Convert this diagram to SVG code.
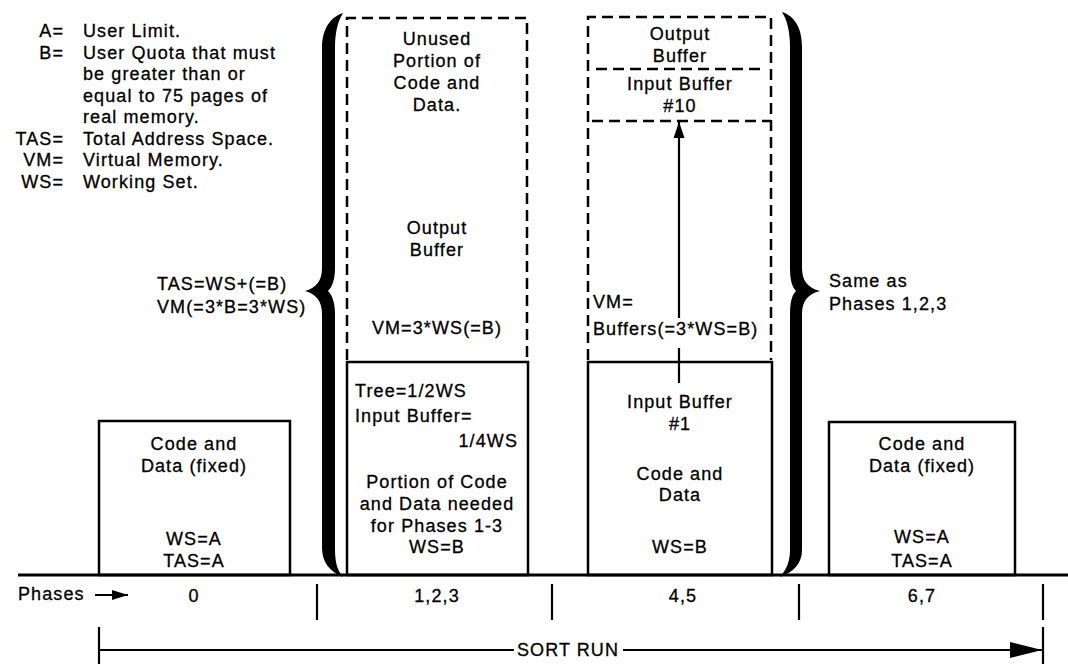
<svg xmlns="http://www.w3.org/2000/svg" width="1068" height="664" viewBox="0 0 1068 664">
<defs>
<style>
text{font-family:"Liberation Sans",Arial,sans-serif;font-size:18px;letter-spacing:1.1px;fill:#000;stroke:#000;stroke-width:0.3}
.c{text-anchor:middle}
.e{text-anchor:end}
.box{fill:none;stroke:#000;stroke-width:2.5}
.dash{fill:none;stroke:#000;stroke-width:2.5;stroke-dasharray:11 6}
.ln{fill:none;stroke:#000;stroke-width:2.2}
.brace{fill:#000}
</style>
<marker id="ahBig" markerUnits="userSpaceOnUse" markerWidth="34" markerHeight="20" refX="32" refY="10" orient="auto"><path d="M0,2 L32,10 L0,18 Z" fill="#000"/></marker>
<marker id="ahSmall" markerUnits="userSpaceOnUse" markerWidth="18" markerHeight="12" refX="16" refY="6" orient="auto"><path d="M0,1 L16,6 L0,11 Z" fill="#000"/></marker>
<marker id="ahUp" markerUnits="userSpaceOnUse" markerWidth="18" markerHeight="14" refX="16" refY="7" orient="auto"><path d="M0,1.5 L16,7 L0,12.5 Z" fill="#000"/></marker>
</defs>
<rect width="1068" height="664" fill="#fff"/>

<g id="legend">
<text x="64" y="37" class="e">A=</text><text x="83" y="37">User Limit.</text>
<text x="64" y="58.5" class="e">B=</text><text x="83" y="58.5">User Quota that must</text>
<text x="83" y="80">be greater than or</text>
<text x="83" y="101.5">equal to 75 pages of</text>
<text x="83" y="123">real memory.</text>
<text x="64" y="144.5" class="e">TAS=</text><text x="83" y="144.5">Total Address Space.</text>
<text x="64" y="166" class="e">VM=</text><text x="83" y="166">Virtual Memory.</text>
<text x="64" y="188" class="e">WS=</text><text x="83" y="188">Working Set.</text>
</g>

<g id="baseline">
<line x1="18" y1="575" x2="1068" y2="575" stroke="#000" stroke-width="3"/>
</g>

<g id="phase0">
<rect class="box" x="99" y="421" width="191" height="154"/>
<text x="194" y="450" class="c">Code and</text>
<text x="194" y="472" class="c">Data (fixed)</text>
<text x="194" y="545" class="c">WS=A</text>
<text x="194" y="567" class="c">TAS=A</text>
</g>

<g id="brace-left">
<path class="brace" d="M343,13 C331,17 322,28 322,48 L322,268 C322,281 316,288 305,291 C316,294 322,301 322,314 L322,548 C322,562 330,572 343,577 C337,570 335,562 335,548 L335,314 C335,302 332,295 328,291 C332,287 335,280 335,268 L335,48 C335,32 338,21 343,13 Z"/>
<text x="157" y="290">TAS=WS+(=B)</text>
<text x="157" y="313">VM(=3*B=3*WS)</text>
</g>

<g id="phase123-vm">
<path class="dash" d="M347,360 L347,18 L527,18 L527,360"/>
<text x="437" y="45" class="c">Unused</text>
<text x="437" y="67" class="c">Portion of</text>
<text x="437" y="89" class="c">Code and</text>
<text x="437" y="111" class="c">Data.</text>
<text x="437" y="234" class="c">Output</text>
<text x="437" y="256" class="c">Buffer</text>
<text x="437" y="334" class="c">VM=3*WS(=B)</text>
</g>

<g id="phase123-ws">
<rect class="box" x="347" y="362" width="181" height="213"/>
<text x="355" y="397">Tree=1/2WS</text>
<text x="355" y="422">Input Buffer=</text>
<text x="518" y="447" class="e">1/4WS</text>
<text x="437" y="488" class="c">Portion of Code</text>
<text x="437" y="510" class="c">and Data needed</text>
<text x="437" y="532" class="c">for Phases 1-3</text>
<text x="437" y="553" class="c">WS=B</text>
</g>

<g id="phase45-vm">
<path class="dash" d="M588,360 L588,17 L771,17 L771,360"/>
<line class="dash" x1="596" y1="69" x2="765" y2="69"/>
<line class="dash" x1="592" y1="121" x2="771" y2="121"/>
<text x="680" y="40" class="c">Output</text>
<text x="680" y="62" class="c">Buffer</text>
<text x="680" y="90" class="c">Input Buffer</text>
<text x="680" y="112" class="c">#10</text>
<text x="593" y="308">VM=</text>
<text x="593" y="335">Buffers(=3*WS=B)</text>
</g>

<g id="phase45-ws">
<rect class="box" x="588" y="362" width="184" height="213"/>
<text x="680" y="408" class="c">Input Buffer</text>
<text x="680" y="430" class="c">#1</text>
<text x="680" y="480" class="c">Code and</text>
<text x="680" y="501" class="c">Data</text>
<text x="680" y="553" class="c">WS=B</text>
</g>

<g id="brace-right">
<path class="brace" d="M782,12 C794,16 802,27 802,47 L802,268 C802,281 808,288 820,291 C808,294 802,301 802,314 L802,550 C802,563 794,572 780,577 C786,570 790,562 790,550 L790,314 C790,302 792,295 796,291 C792,287 790,280 790,268 L790,47 C790,31 787,20 782,12 Z"/>
<text x="829" y="287">Same as</text>
<text x="829" y="310">Phases 1,2,3</text>
</g>

<g id="phase67">
<rect class="box" x="829" y="422" width="186" height="153"/>
<text x="922" y="450" class="c">Code and</text>
<text x="922" y="472" class="c">Data (fixed)</text>
<text x="922" y="543" class="c">WS=A</text>
<text x="922" y="567" class="c">TAS=A</text>
</g>

<g id="phases-row">
<text x="18" y="600">Phases</text>
<text x="194" y="602" class="c">0</text>
<text x="437" y="602" class="c">1,2,3</text>
<text x="683" y="602" class="c">4,5</text>
<text x="922" y="602" class="c">6,7</text>
<text x="568" y="656" class="c">SORT RUN</text>
</g>

<g id="connectors">
<line class="ln" x1="679" y1="383" x2="679" y2="348"/>
<line class="ln" x1="679" y1="318" x2="679" y2="122" marker-end="url(#ahUp)"/>
<line class="ln" x1="95" y1="595" x2="128" y2="595" marker-end="url(#ahSmall)"/>
<line class="ln" x1="317" y1="584" x2="317" y2="620"/>
<line class="ln" x1="552" y1="584" x2="552" y2="620"/>
<line class="ln" x1="799" y1="584" x2="799" y2="620"/>
<line class="ln" x1="1043" y1="584" x2="1043" y2="620"/>
<line class="ln" x1="99" y1="627" x2="99" y2="664"/>
<line class="ln" x1="1043" y1="627" x2="1043" y2="664"/>
<line class="ln" x1="99" y1="650" x2="514" y2="650"/>
<line class="ln" x1="623" y1="650" x2="1042" y2="650" marker-end="url(#ahBig)"/>
</g>
</svg>
